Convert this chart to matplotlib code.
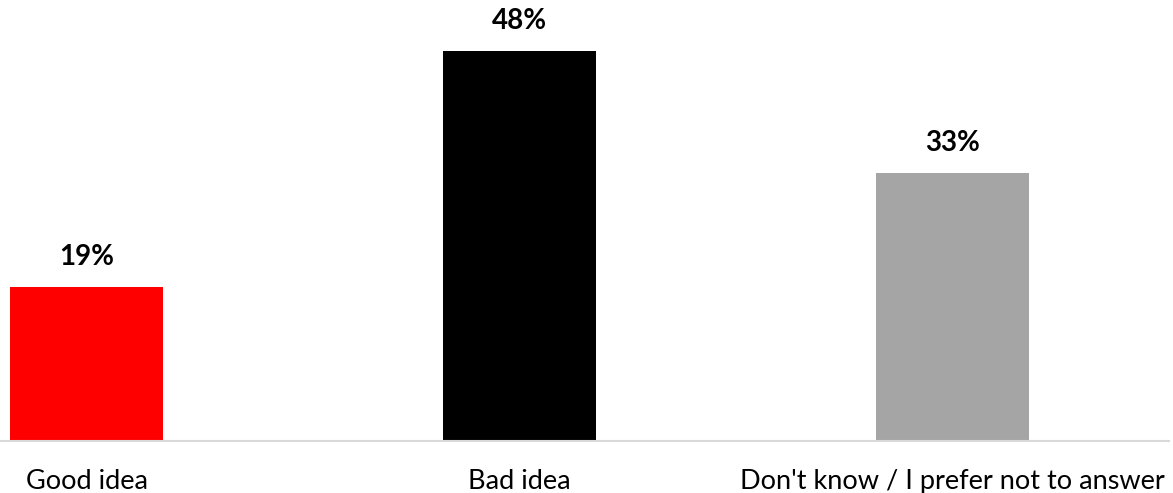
import matplotlib
matplotlib.use("Agg")
import matplotlib.pyplot as plt

categories = ["Good idea", "Bad idea", "Don't know / I prefer not to answer"]
values = [19, 48, 33]
colors = ["#ff0000", "#000000", "#a5a5a5"]

plt.rcParams['font.family'] = ['Lato', 'DejaVu Sans']

fig = plt.figure(figsize=(11.73, 4.93), dpi=100)
ax = fig.add_axes([0, 52 / 493, 1, 441 / 493])

x = list(range(len(categories)))
bars = ax.bar(x, values, width=153 / 433, color=colors)

for b, v in zip(bars, values):
    ax.annotate(f"{v}%", (b.get_x() + b.get_width() / 2, v), xytext=(0, 12),
                textcoords="offset points", ha="center", va="bottom",
                fontsize=20, fontweight="bold")

xmin = -86.5 / 433
ax.set_xlim(xmin, xmin + 1173 / 433)
ax.set_ylim(0, 441 / 8.125)
ax.set_xticks(x)
ax.set_xticklabels(categories, fontsize=19.5)
ax.tick_params(axis="x", length=0, pad=20)
ax.set_yticks([])
for s in ["top", "left", "right"]:
    ax.spines[s].set_visible(False)
ax.spines["bottom"].set_color("#d9d9d9")
ax.spines["bottom"].set_linewidth(1.5)
ax.spines["bottom"].set_bounds(xmin, xmin + 1169 / 433)

fig.savefig("out.png", dpi=100)
